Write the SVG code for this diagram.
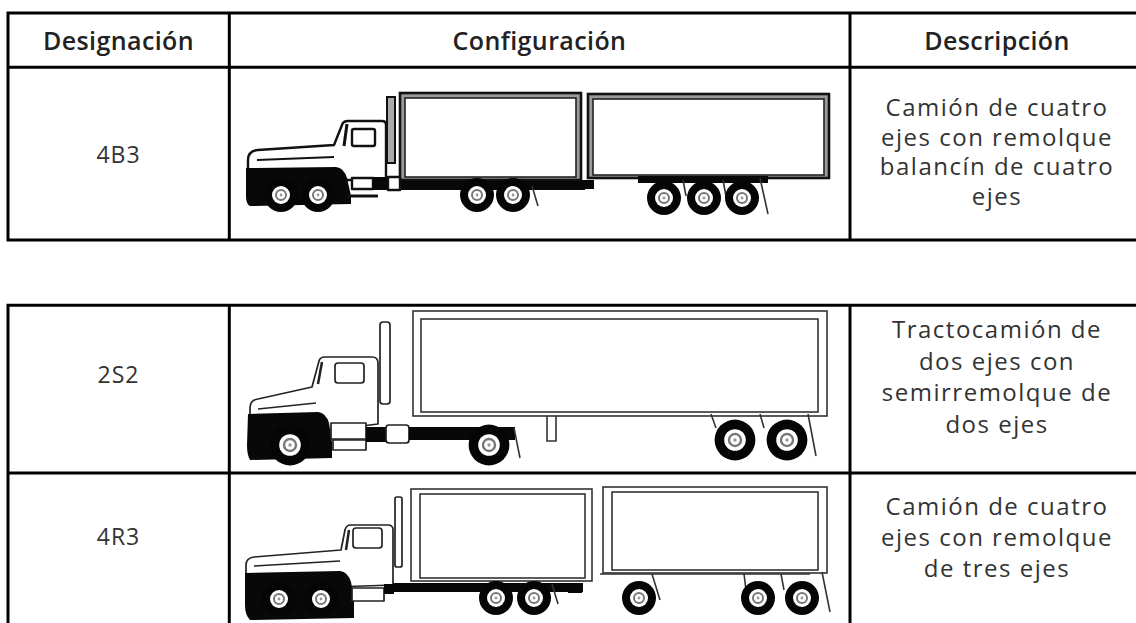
<svg xmlns="http://www.w3.org/2000/svg" xmlns:xlink="http://www.w3.org/1999/xlink" width="1136" height="623" viewBox="0 0 1136 623">
<style>
.grid{stroke:#000;stroke-width:3;fill:none}
.hd{font-family:'Open Sans',sans-serif;font-size:25px;font-weight:600;fill:#222;letter-spacing:0.4px;text-anchor:middle}
.ds{font-family:'Open Sans',sans-serif;font-size:23px;fill:#333;letter-spacing:1px;text-anchor:middle}
.tx{font-family:'Open Sans',sans-serif;font-size:24px;fill:#333;letter-spacing:1.5px;text-anchor:middle}
.ln{fill:#fff;stroke:#111;stroke-width:2.4;stroke-linejoin:round}
.lt{fill:#fff;stroke:#222;stroke-width:1.7;stroke-linejoin:round}
.blk{fill:#080808}
.box{fill:#9a9a9a;stroke:#111;stroke-width:2.6}
.boxin{fill:#fff;stroke:#222;stroke-width:1.6}
.box2{fill:#fff;stroke:#333;stroke-width:1.6}
.thin{fill:none;stroke:#333;stroke-width:1.6}
</style>
<defs>
<g id="wh">
<circle r="17" fill="#050505"/>
<circle r="9" fill="#fff"/>
<circle r="5" fill="none" stroke="#777" stroke-width="2"/>
<circle r="1.4" fill="#999"/>
</g>
</defs>
<rect width="1136" height="623" fill="#fff"/>

<g id="grid">
<path class="grid" d="M6.5,13 H1136 M6.5,67.3 H1136 M6.5,240 H1136 M8,13 V240 M229.3,13 V240 M850,13 V240"/>
<path class="grid" d="M6.5,305.3 H1136 M6.5,473 H1136 M8,305.3 V623 M229.3,305.3 V623 M850,305.3 V623"/>
</g>

<g id="header">
<text class="hd" x="118.5" y="50">Designación</text>
<text class="hd" x="539.5" y="50">Configuración</text>
<text class="hd" x="997" y="50">Descripción</text>
</g>

<g id="row-4B3">
<text class="ds" x="118.5" y="163">4B3</text>
<g id="truck-4B3">
<rect x="387" y="97" width="8" height="66" fill="#aaa" stroke="#111" stroke-width="2"/>
<rect class="box" x="400" y="93" width="181" height="87"/>
<rect class="boxin" x="405" y="98" width="171" height="79"/>
<rect class="box" x="588" y="94" width="241" height="84"/>
<rect class="boxin" x="593" y="99" width="231" height="76"/>
<path class="ln" d="M248,180 V160 Q248,151 258,150 L334,145 L342,125 Q343,121 348,121 L382,121 Q386,121 386,125 V180 Z"/>
<rect class="ln" x="352" y="129" width="23" height="17" rx="2"/>
<path d="M347,124 L344,146" stroke="#111" stroke-width="3"/>
<path d="M257,160 L334,157" stroke="#111" stroke-width="2"/>
<path class="blk" d="M246,168 L336,167 Q344,168 347,178 L351,196 L351,204 L250,206 Q246,204 246,196 Z"/>
<rect class="ln" x="352" y="178" width="21" height="11"/>
<rect class="blk" x="373" y="177" width="14" height="13"/>
<path d="M348,196 H378" stroke="#111" stroke-width="3"/>
<rect class="blk" x="385" y="181" width="200" height="9"/>
<rect class="ln" x="388" y="177" width="12" height="13"/>
<rect class="blk" x="580" y="180" width="14" height="9"/>
<rect class="blk" x="638" y="176" width="130" height="7"/>
<path class="thin" d="M683,180 L686,196 M723,180 L726,196 M760,178 L768,214 M532,186 L538,206"/>
<use xlink:href="#wh" href="#wh" transform="translate(281,195)"/>
<use xlink:href="#wh" href="#wh" transform="translate(318,195)"/>
<use xlink:href="#wh" href="#wh" transform="translate(477,195)"/>
<use xlink:href="#wh" href="#wh" transform="translate(513,195)"/>
<use xlink:href="#wh" href="#wh" transform="translate(664,198)"/>
<use xlink:href="#wh" href="#wh" transform="translate(704,198)"/>
<use xlink:href="#wh" href="#wh" transform="translate(742,198)"/>
</g>
<text class="tx" x="997" y="116">Camión de cuatro</text>
<text class="tx" x="997" y="145.5">ejes con remolque</text>
<text class="tx" x="997" y="175">balancín de cuatro</text>
<text class="tx" x="997" y="204.5">ejes</text>
</g>

<g id="row-2S2">
<text class="ds" x="118.5" y="383">2S2</text>
<g id="truck-2S2">
<rect class="lt" x="380" y="322" width="10" height="82" rx="3"/>
<rect class="box2" x="413" y="311" width="414" height="105"/>
<rect class="box2" x="421" y="319" width="397" height="93"/>
<path class="lt" d="M250,440 V408 Q250,400 258,399 L312,387 L319,361 Q320,357 325,357 L372,357 Q378,357 378,363 V424 Z"/>
<rect class="lt" x="335" y="363" width="29" height="20" rx="3"/>
<path d="M322,362 L318,384" stroke="#222" stroke-width="2.5"/>
<path d="M258,409 L316,403" stroke="#222" stroke-width="1.6"/>
<path class="blk" d="M248,414 L318,412 Q326,413 329,423 L332,442 L332,458 L250,460 Q247,455 247,445 Z"/>
<rect class="lt" x="331" y="423" width="35" height="16"/>
<rect class="lt" x="333" y="440" width="33" height="10"/>
<rect class="blk" x="366" y="427" width="20" height="15"/>
<rect class="lt" x="386" y="425" width="23" height="18" rx="3"/>
<rect class="blk" x="409" y="427" width="106" height="13"/>
<path class="thin" d="M514,428 L520,458"/>
<path class="thin" d="M547,416 V441 H556 V416" stroke-width="2"/>
<path class="thin" d="M711,414 L716,428 M760,414 L764,428 M808,414 L816,456"/>
<use xlink:href="#wh" href="#wh" transform="translate(290,445) scale(1.2)"/>
<use xlink:href="#wh" href="#wh" transform="translate(489,445) scale(1.2)"/>
<use xlink:href="#wh" href="#wh" transform="translate(735,440) scale(1.2)"/>
<use xlink:href="#wh" href="#wh" transform="translate(787,440) scale(1.2)"/>
</g>
<text class="tx" x="997" y="338">Tractocamión de</text>
<text class="tx" x="997" y="369.5">dos ejes con</text>
<text class="tx" x="997" y="401">semirremolque de</text>
<text class="tx" x="997" y="432.5">dos ejes</text>
</g>

<g id="row-4R3">
<text class="ds" x="118.5" y="545">4R3</text>
<g id="truck-4R3">
<rect class="lt" x="395" y="497" width="7" height="70" rx="2"/>
<rect class="box2" x="411" y="489" width="181" height="92"/>
<rect class="box2" x="420" y="494" width="165" height="84"/>
<rect class="box2" x="603" y="487" width="224" height="86"/>
<rect class="box2" x="612" y="492" width="206" height="78"/>
<path class="lt" d="M246,590 V565 Q246,558 254,557 L341,550 L345,530 Q346,525 351,525 L388,525 Q393,525 393,530 V585 Z"/>
<rect class="lt" x="353" y="528" width="29" height="20" rx="3"/>
<path d="M349,530 L346,550" stroke="#222" stroke-width="2.5"/>
<path d="M254,566 L340,561" stroke="#222" stroke-width="1.6"/>
<path class="blk" d="M245,573 L340,571 Q348,572 351,582 L354,598 L354,618 L250,620 Q245,615 245,605 Z"/>
<rect class="lt" x="352" y="588" width="32" height="13"/>
<rect class="blk" x="384" y="584" width="10" height="10"/>
<rect class="blk" x="393" y="583" width="190" height="9"/>
<rect class="blk" x="568" y="584" width="14" height="9"/>
<path class="thin" d="M600,574 H810 M652,574 L660,600 M744,574 L746,590 M781,574 L784,590 M822,572 L830,612 M552,584 L558,604"/>
<use xlink:href="#wh" href="#wh" transform="translate(279,599)"/>
<use xlink:href="#wh" href="#wh" transform="translate(321,599)"/>
<use xlink:href="#wh" href="#wh" transform="translate(496,598)"/>
<use xlink:href="#wh" href="#wh" transform="translate(534,598)"/>
<use xlink:href="#wh" href="#wh" transform="translate(639,598)"/>
<use xlink:href="#wh" href="#wh" transform="translate(758,598)"/>
<use xlink:href="#wh" href="#wh" transform="translate(802,598)"/>
</g>
<text class="tx" x="997" y="515">Camión de cuatro</text>
<text class="tx" x="997" y="546">ejes con remolque</text>
<text class="tx" x="997" y="577">de tres ejes</text>
</g>
</svg>
